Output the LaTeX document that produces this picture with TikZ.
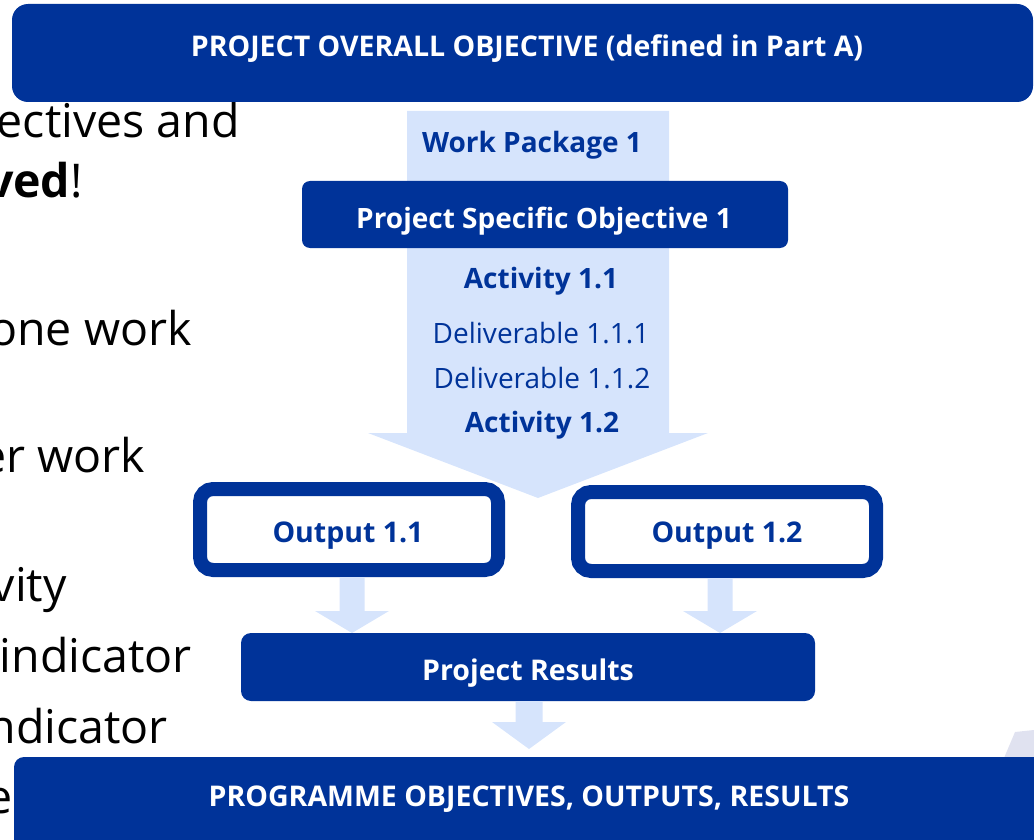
\documentclass[tikz,border=0pt]{standalone}
\usepackage{fontspec}
\setmainfont{Open Sans}
\usetikzlibrary{calc}
\definecolor{navy}{RGB}{0,51,153}
\definecolor{paleblue}{RGB}{214,228,252}
\definecolor{palegrey}{RGB}{224,226,240}

% block arrow: #1 start, #2 tip, #3 half shaft width, #4 half head width, #5 head length
\newcommand\blockarrow[5]{%
  \fill[paleblue] let \p1=(#1), \p2=(#2) in
    (\x2-#3,\y1) -- (\x2+#3,\y1) -- (\x2+#3,\y2+#5) -- (\x2+#4,\y2+#5)
    -- (\x2,\y2) -- (\x2-#4,\y2+#5) -- (\x2-#3,\y2+#5) -- cycle;}

\begin{document}
\begin{tikzpicture}[x=1pt,y=-1pt,
  solidbox/.style={fill=navy,draw=none,inner sep=0pt,rounded corners=#1},
  solidbox/.default=10pt,
  outbox/.style={draw=navy,line width=14pt,fill=white,inner sep=0pt,rounded corners=13pt},
  boxtext/.style={text=white,font=\fontsize{28}{32}\selectfont\bfseries,anchor=base,inner sep=0pt},
  wptext/.style={text=navy,font=\fontsize{28}{32}\selectfont\bfseries,anchor=base,inner sep=0pt},
  deltext/.style={text=navy,font=\fontsize{28}{32}\selectfont,anchor=base,inner sep=0pt},
  slidetext/.style={text=black,font=\fontsize{46.5}{54}\selectfont,anchor=base east,inner sep=0pt}]
\useasboundingbox (0,0) rectangle (1034,840);

% slide text running behind the diagram
\node[slidetext] (l1) at (240,138) {ectives and};
\node[slidetext] (l2) at (83,197) {\textbf{ved}!};
\node[slidetext] (l3) at (192,345) {one work};
\node[slidetext] (l4) at (145,472) {er work};
\node[slidetext] (l5) at (67,601) {vity};
\node[slidetext] (l6) at (192,672) {indicator};
\node[slidetext] (l7) at (168,743) {ndicator};
\node[slidetext] (l8) at (13,813) {e};

% grey shape at the lower right edge
\fill[palegrey] (1004,758) -- (1015,732) -- (1034,730) -- (1034,758) -- cycle;

% work package arrow
\coordinate (wpTop) at (538,111);
\coordinate (wpTip) at (538,498);
\blockarrow{wpTop}{wpTip}{131pt}{170pt}{65pt}

% top objective
\node[solidbox=16pt,minimum width=1021pt,minimum height=98pt] (top) at (522.5,53) {};
\node[boxtext,font=\fontsize{28.5}{32}\selectfont\bfseries] (toptxt) at (527,57) {PROJECT OVERALL OBJECTIVE (defined in Part A)};

\node[wptext] (wp) at (532,153) {Work Package 1};

\node[solidbox=8pt,minimum width=486pt,minimum height=67pt] (pso) at (545,214.5) {};
\node[boxtext] (psotxt) at (544,228) {Project Specific Objective 1};

\node[wptext] (a11) at (541,288) {Activity 1.1};
\node[deltext] (d111) at (541,343) {Deliverable 1.1.1};
\node[deltext] (d112) at (542,388) {Deliverable 1.1.2};
\node[wptext] (a12) at (542,432) {Activity 1.2};

% outputs
\node[outbox,minimum width=298pt,minimum height=81pt] (o1) at (349,529.5) {};
\node[outbox,minimum width=298pt,minimum height=79pt] (o2) at (727,531.5) {};
\node[wptext,font=\fontsize{28.5}{32}\selectfont\bfseries] (o1txt) at (348,542) {Output 1.1};
\node[wptext,font=\fontsize{28.5}{32}\selectfont\bfseries] (o2txt) at (727,542) {Output 1.2};

% arrows from the outputs to the results
\coordinate (t1) at (352,633);
\coordinate (t2) at (720,633);
\coordinate (s1) at (o1.south -| t1);
\coordinate (s2) at (o2.south -| t2);
\blockarrow{s1}{t1}{12.5pt}{37pt}{22pt}
\blockarrow{s2}{t2}{12.5pt}{37pt}{22pt}

% project results
\node[solidbox=10pt,minimum width=574pt,minimum height=68pt] (res) at (528,667) {};
\node[boxtext,font=\fontsize{28.5}{32}\selectfont\bfseries] (restxt) at (528,680) {Project Results};

% arrow to the programme
\coordinate (t3) at (529,749);
\blockarrow{res.south}{t3}{13.5pt}{37pt}{27pt}

% programme box
\node[solidbox=10pt,minimum width=1036pt,minimum height=93pt] (prog) at (532,803.5) {};
\node[boxtext,font=\fontsize{28.5}{32}\selectfont\bfseries] (progtxt) at (529,806) {PROGRAMME OBJECTIVES, OUTPUTS, RESULTS};
\end{tikzpicture}
\end{document}
